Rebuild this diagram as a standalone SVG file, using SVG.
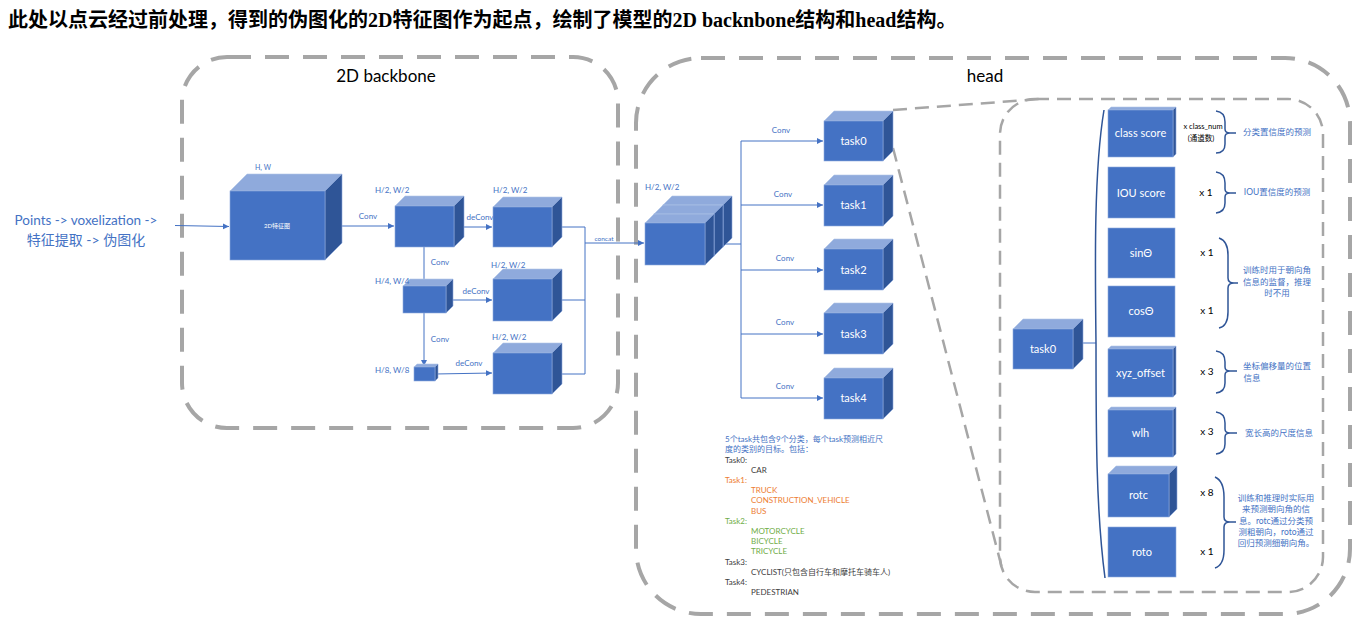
<svg xmlns="http://www.w3.org/2000/svg" width="1362" height="623" viewBox="0 0 1362 623">
<defs>
<marker id="arr" markerWidth="8" markerHeight="8" refX="6" refY="3" orient="auto" markerUnits="userSpaceOnUse">
<path d="M0,0 L6,3 L0,6 z" fill="#4472c4"/>
</marker>
<style>
.f{fill:#4472c4;stroke:#8faadc;stroke-width:0.6}
.t{fill:#8faadc;stroke:#b4c7e7;stroke-width:0.6}
.s{fill:#2f5597;stroke:#8faadc;stroke-width:0.6}
.ln{stroke:#4472c4;stroke-width:1;fill:none}
.dash{fill:none;stroke:#a6a6a6;stroke-width:4;stroke-dasharray:24 14}
.dash2{fill:none;stroke:#a6a6a6;stroke-width:2.5;stroke-dasharray:14 8}
.br{fill:none;stroke:#2f5597;stroke-width:1.5}
.lbl{font-family:Lato,"Liberation Sans","Noto Sans CJK SC",sans-serif;fill:#4472c4}
.sm{font-size:8px}
.wt{font-family:Lato,"Liberation Sans","Noto Sans CJK SC",sans-serif;fill:#ffffff;font-size:11px;text-anchor:middle}
.bk{font-family:Lato,"Liberation Sans","Noto Sans CJK SC",sans-serif;fill:#000000}
.cn{font-family:Lato,"Liberation Sans","Noto Sans CJK SC",sans-serif;font-size:8.5px;fill:#4472c4;text-anchor:middle}
.tx{font-family:Lato,"Liberation Sans","Noto Sans CJK SC",sans-serif;font-size:8px}
</style>
</defs>
<rect width="1362" height="623" fill="#ffffff"/>

<text x="8" y="27" font-family="'Liberation Serif','Noto Sans CJK SC',serif" font-weight="bold" font-size="20" fill="#000000">此处以点云经过前处理，得到的伪图化的2D特征图作为起点，绘制了模型的2D backnbone结构和head结构。</text>

<!-- frames -->
<g id="frames">
<rect class="dash" x="182" y="57" width="436" height="371" rx="45"/>
<text x="386" y="82" font-family="Lato,'Liberation Sans',sans-serif" font-size="17" text-anchor="middle" fill="#000">2D backbone</text>
<rect class="dash" x="636" y="58" width="714" height="556" rx="65"/>
<text x="985" y="82" font-family="Lato,'Liberation Sans',sans-serif" font-size="17" text-anchor="middle" fill="#000">head</text>
<rect class="dash2" x="1000" y="99" width="323" height="493" rx="35"/>
<line class="dash2" x1="893" y1="110" x2="1040" y2="99"/>
<line class="dash2" x1="893" y1="148" x2="1003" y2="572"/>
</g>

<!-- input text -->
<g id="input">
<text class="lbl" x="86" y="225" font-size="13.5" text-anchor="middle">Points -&gt; voxelization -&gt;</text>
<text class="lbl" x="86" y="245" font-size="14" text-anchor="middle">特征提取 -&gt; 伪图化</text>
</g>

<!-- connectors -->
<g id="connectors">
<path class="ln" d="M175,225.5 L229,226.5" marker-end="url(#arr)"/>
<path class="ln" d="M325,226 L394,226" marker-end="url(#arr)"/>
<path class="ln" d="M454,227 L492,227" marker-end="url(#arr)"/>
<path class="ln" d="M424,247 L424,285" marker-end="url(#arr)"/>
<path class="ln" d="M446,300 L492,300" marker-end="url(#arr)"/>
<path class="ln" d="M424,313 L424,366" marker-end="url(#arr)"/>
<path class="ln" d="M435,374 L492,373" marker-end="url(#arr)"/>
<path class="ln" d="M562,227 L585,227 L585,374 L562,374 M562,300 L585,300"/>
<path class="ln" d="M585,243 L644,243" marker-end="url(#arr)"/>
<path class="ln" d="M722,244 L741,244 M741,141 L741,398"/>
<path class="ln" d="M741,141 L823,141" marker-end="url(#arr)"/>
<path class="ln" d="M741,205 L823,205" marker-end="url(#arr)"/>
<path class="ln" d="M741,270 L823,270" marker-end="url(#arr)"/>
<path class="ln" d="M741,334 L823,334" marker-end="url(#arr)"/>
<path class="ln" d="M741,398 L823,398" marker-end="url(#arr)"/>
<path class="ln" d="M1083,343 L1096,343"/>
<path class="br" d="M1104,110 C1094,170 1095,260 1096,343 C1096,430 1096,510 1105,578"/>
<!-- labels -->
<text class="lbl sm" x="368" y="219" text-anchor="middle">Conv</text>
<text class="lbl sm" x="480" y="220" text-anchor="middle">deConv</text>
<text class="lbl sm" x="440" y="265" text-anchor="middle">Conv</text>
<text class="lbl sm" x="476" y="294" text-anchor="middle">deConv</text>
<text class="lbl sm" x="440" y="342" text-anchor="middle">Conv</text>
<text class="lbl sm" x="469" y="366" text-anchor="middle">deConv</text>
<text class="lbl" x="604" y="241" font-size="6.5" text-anchor="middle">concat</text>
<text class="lbl sm" x="781" y="133" text-anchor="middle">Conv</text>
<text class="lbl sm" x="783" y="197" text-anchor="middle">Conv</text>
<text class="lbl sm" x="785" y="261" text-anchor="middle">Conv</text>
<text class="lbl sm" x="785" y="325" text-anchor="middle">Conv</text>
<text class="lbl sm" x="785" y="389" text-anchor="middle">Conv</text>
</g>

<!-- backbone nodes -->
<g id="feat2d">
<polygon class="t" points="230,191 247,174 342,174 325,191"/>
<polygon class="s" points="325,191 342,174 342,243 325,260"/>
<rect class="f" x="230" y="191" width="95" height="69"/>
<text class="wt" x="277" y="228" style="font-size:6px">2D特征图</text>
<text class="lbl" x="255" y="170" font-size="7" >H, W</text>
</g>
<g id="cubeA">
<polygon class="t" points="395,206 405,196 464,196 454,206"/>
<polygon class="s" points="454,206 464,196 464,237 454,247"/>
<rect class="f" x="395" y="206" width="59" height="41"/>
<text class="lbl sm" x="375" y="193">H/2, W/2</text>
</g>
<g id="cubeB">
<polygon class="t" points="493,207 503,197 562,197 552,207"/>
<polygon class="s" points="552,207 562,197 562,237 552,247"/>
<rect class="f" x="493" y="207" width="59" height="40"/>
<text class="lbl sm" x="493" y="193">H/2, W/2</text>
</g>
<g id="cubeC">
<polygon class="t" points="403,286 410,279 453,279 446,286"/>
<polygon class="s" points="446,286 453,279 453,306 446,313"/>
<rect class="f" x="403" y="286" width="43" height="27"/>
<text class="lbl sm" x="375" y="284">H/4, W/4</text>
</g>
<g id="cubeD">
<polygon class="t" points="493,279 503,269 562,269 552,279"/>
<polygon class="s" points="552,279 562,269 562,311 552,321"/>
<rect class="f" x="493" y="279" width="59" height="42"/>
<text class="lbl sm" x="491" y="268">H/2, W/2</text>
</g>
<g id="cubeE">
<polygon class="t" points="414,367 417,364 438,364 435,367"/>
<polygon class="s" points="435,367 438,364 438,378 435,381"/>
<rect class="f" x="414" y="367" width="21" height="14"/>
<text class="lbl sm" x="375" y="373">H/8, W/8</text>
</g>
<g id="cubeF">
<polygon class="t" points="493,353 503,343 562,343 552,353"/>
<polygon class="s" points="552,353 562,343 562,384 552,394"/>
<rect class="f" x="493" y="353" width="59" height="41"/>
<text class="lbl sm" x="492" y="340">H/2, W/2</text>
</g>

<!-- head stack -->
<g id="concatStack">
<polygon class="t" points="663,205 672,196 732,196 723,205"/>
<polygon class="s" points="723,205 732,196 732,238 723,247"/>
<rect class="f" x="663" y="205" width="60" height="42"/>
<polygon class="t" points="654,214 663,205 723,205 714,214"/>
<polygon class="s" points="714,214 723,205 723,247 714,256"/>
<rect class="f" x="654" y="214" width="60" height="42"/>
<polygon class="t" points="645,223 654,214 714,214 705,223"/>
<polygon class="s" points="705,223 714,214 714,256 705,265"/>
<rect class="f" x="645" y="223" width="60" height="42"/>
<text class="lbl sm" x="645" y="190">H/2, W/2</text>
</g>

<g id="task0">
<polygon class="t" points="824,121 834,111 893,111 883,121"/>
<polygon class="s" points="883,121 893,111 893,151 883,161"/>
<rect class="f" x="824" y="121" width="59" height="40"/>
<text class="wt" x="853.5" y="145">task0</text>
</g>
<g id="task1">
<polygon class="t" points="824,185 834,175 893,175 883,185"/>
<polygon class="s" points="883,185 893,175 893,216 883,226"/>
<rect class="f" x="824" y="185" width="59" height="41"/>
<text class="wt" x="853.5" y="209">task1</text>
</g>
<g id="task2">
<polygon class="t" points="824,249 834,239 893,239 883,249"/>
<polygon class="s" points="883,249 893,239 893,280 883,290"/>
<rect class="f" x="824" y="249" width="59" height="41"/>
<text class="wt" x="853.5" y="274">task2</text>
</g>
<g id="task3">
<polygon class="t" points="824,313 834,303 893,303 883,313"/>
<polygon class="s" points="883,313 893,303 893,344 883,354"/>
<rect class="f" x="824" y="313" width="59" height="41"/>
<text class="wt" x="853.5" y="338">task3</text>
</g>
<g id="task4">
<polygon class="t" points="824,378 834,368 893,368 883,378"/>
<polygon class="s" points="883,378 893,368 893,409 883,419"/>
<rect class="f" x="824" y="378" width="59" height="41"/>
<text class="wt" x="853.5" y="402">task4</text>
</g>

<!-- task description -->
<g id="taskText" class="tx">
<text x="725" y="442" fill="#4472c4">5个task共包含9个分类，每个task预测相近尺</text>
<text x="725" y="452" fill="#4472c4">度的类别的目标。包括：</text>
<text x="725" y="463" fill="#404040">Task0:</text>
<text x="751" y="473" fill="#404040">CAR</text>
<text x="725" y="483" fill="#ed7d31">Task1:</text>
<text x="751" y="493" fill="#ed7d31">TRUCK</text>
<text x="751" y="503" fill="#ed7d31">CONSTRUCTION_VEHICLE</text>
<text x="751" y="514" fill="#ed7d31">BUS</text>
<text x="725" y="524" fill="#70ad47">Task2:</text>
<text x="751" y="534" fill="#70ad47">MOTORCYCLE</text>
<text x="751" y="544" fill="#70ad47">BICYCLE</text>
<text x="751" y="554" fill="#70ad47">TRICYCLE</text>
<text x="725" y="565" fill="#404040">Task3:</text>
<text x="751" y="575" fill="#404040">CYCLIST(只包含自行车和摩托车骑车人)</text>
<text x="725" y="585" fill="#404040">Task4:</text>
<text x="751" y="595" fill="#404040">PEDESTRIAN</text>
</g>

<!-- right panel -->
<g id="task0big">
<polygon class="t" points="1013,329 1023,319 1083,319 1073,329"/>
<polygon class="s" points="1073,329 1083,319 1083,359 1073,369"/>
<rect class="f" x="1013" y="329" width="60" height="40"/>
<text class="wt" x="1043" y="353">task0</text>
</g>
<g id="classScore">
<polygon class="t" points="1108,110 1111,107 1176,107 1173,110"/>
<polygon class="s" points="1173,110 1176,107 1176,154 1173,157"/>
<rect class="f" x="1108" y="110" width="65" height="47"/>
<text class="wt" x="1140.5" y="137">class score</text>
<text class="bk" x="1203" y="129" font-size="7.5" text-anchor="middle">x class_num</text>
<text class="bk" x="1201" y="141" font-size="7.5" text-anchor="middle">(通道数)</text>
<path class="br" d="M1216,111 Q1225,112 1225,122 L1225,129 Q1225,133 1230,133 Q1225,133 1225,137 L1225,144 Q1225,153 1216,153 M1230,133 L1236,133"/>
<text class="cn" x="1277" y="135">分类置信度的预测</text>
</g>
<g id="iouScore">
<rect class="f" x="1108" y="167" width="67" height="51"/>
<text class="wt" x="1141" y="197">IOU score</text>
<text class="bk" x="1206" y="196" font-size="10" text-anchor="middle">x 1</text>
<path class="br" d="M1216,172 Q1225,173 1225,183 L1225,189 Q1225,193 1230,193 Q1225,193 1225,197 L1225,203 Q1225,212 1216,213 M1230,193 L1236,193"/>
<text class="cn" x="1277" y="195">IOU置信度的预测</text>
</g>
<g id="sinTheta">
<rect class="f" x="1108" y="228" width="67" height="50"/>
<text class="wt" x="1141" y="257">sinΘ</text>
<text class="bk" x="1207" y="256" font-size="10" text-anchor="middle">x 1</text>
</g>
<g id="cosTheta">
<rect class="f" x="1108" y="286" width="67" height="51"/>
<text class="wt" x="1141" y="315">cosΘ</text>
<text class="bk" x="1207" y="314" font-size="10" text-anchor="middle">x 1</text>
<path class="br" d="M1219,238 Q1228,241 1228,255 L1228,278 Q1228,283 1234,283 Q1228,283 1228,288 L1228,312 Q1228,326 1219,328 M1234,283 L1238,283"/>
<text class="cn" x="1277" y="273">训练时用于朝向角</text>
<text class="cn" x="1277" y="285">信息的监督，推理</text>
<text class="cn" x="1277" y="296">时不用</text>
</g>
<g id="xyzOffset">
<polygon class="t" points="1108,349 1111,346 1176,346 1173,349"/>
<polygon class="s" points="1173,349 1176,346 1176,394 1173,397"/>
<rect class="f" x="1108" y="349" width="65" height="48"/>
<text class="wt" x="1140.5" y="377">xyz_offset</text>
<text class="bk" x="1207" y="375" font-size="10" text-anchor="middle">x 3</text>
<path class="br" d="M1216,351 Q1225,352 1225,362 L1225,367 Q1225,371 1230,371 Q1225,371 1225,375 L1225,383 Q1225,392 1216,393 M1230,371 L1237,371"/>
<text class="cn" x="1277" y="369">坐标偏移量的位置</text>
<text class="cn" x="1252" y="381">信息</text>
</g>
<g id="wlh">
<polygon class="t" points="1108,410 1111,407 1176,407 1173,410"/>
<polygon class="s" points="1173,410 1176,407 1176,454 1173,457"/>
<rect class="f" x="1108" y="410" width="65" height="47"/>
<text class="wt" x="1140.5" y="437">wlh</text>
<text class="bk" x="1207" y="435" font-size="10" text-anchor="middle">x 3</text>
<path class="br" d="M1216,412 Q1225,413 1225,423 L1225,429 Q1225,433 1230,433 Q1225,433 1225,437 L1225,444 Q1225,453 1216,454 M1230,433 L1237,433"/>
<text class="cn" x="1279" y="436">宽长高的尺度信息</text>
</g>
<g id="rotc">
<polygon class="t" points="1108,474 1116,466 1177,466 1169,474"/>
<polygon class="s" points="1169,474 1177,466 1177,509 1169,517"/>
<rect class="f" x="1108" y="474" width="61" height="43"/>
<text class="wt" x="1138.5" y="499">rotc</text>
<text class="bk" x="1207" y="496" font-size="10" text-anchor="middle">x 8</text>
</g>
<g id="roto">
<rect class="f" x="1108" y="527" width="68" height="50"/>
<text class="wt" x="1142" y="556">roto</text>
<text class="bk" x="1207" y="555" font-size="10" text-anchor="middle">x 1</text>
<path class="br" d="M1215,477 Q1224,481 1224,497 L1224,517 Q1224,522 1230,522 Q1224,522 1224,527 L1224,550 Q1224,565 1215,568 M1230,522 L1236,522"/>
<text class="cn" x="1276" y="501">训练和推理时实际用</text>
<text class="cn" x="1276" y="512">来预测朝向角的信</text>
<text class="cn" x="1276" y="524">息。rotc通过分类预</text>
<text class="cn" x="1276" y="535">测粗朝向，roto通过</text>
<text class="cn" x="1276" y="546">回归预测细朝向角。</text>
</g>
</svg>
